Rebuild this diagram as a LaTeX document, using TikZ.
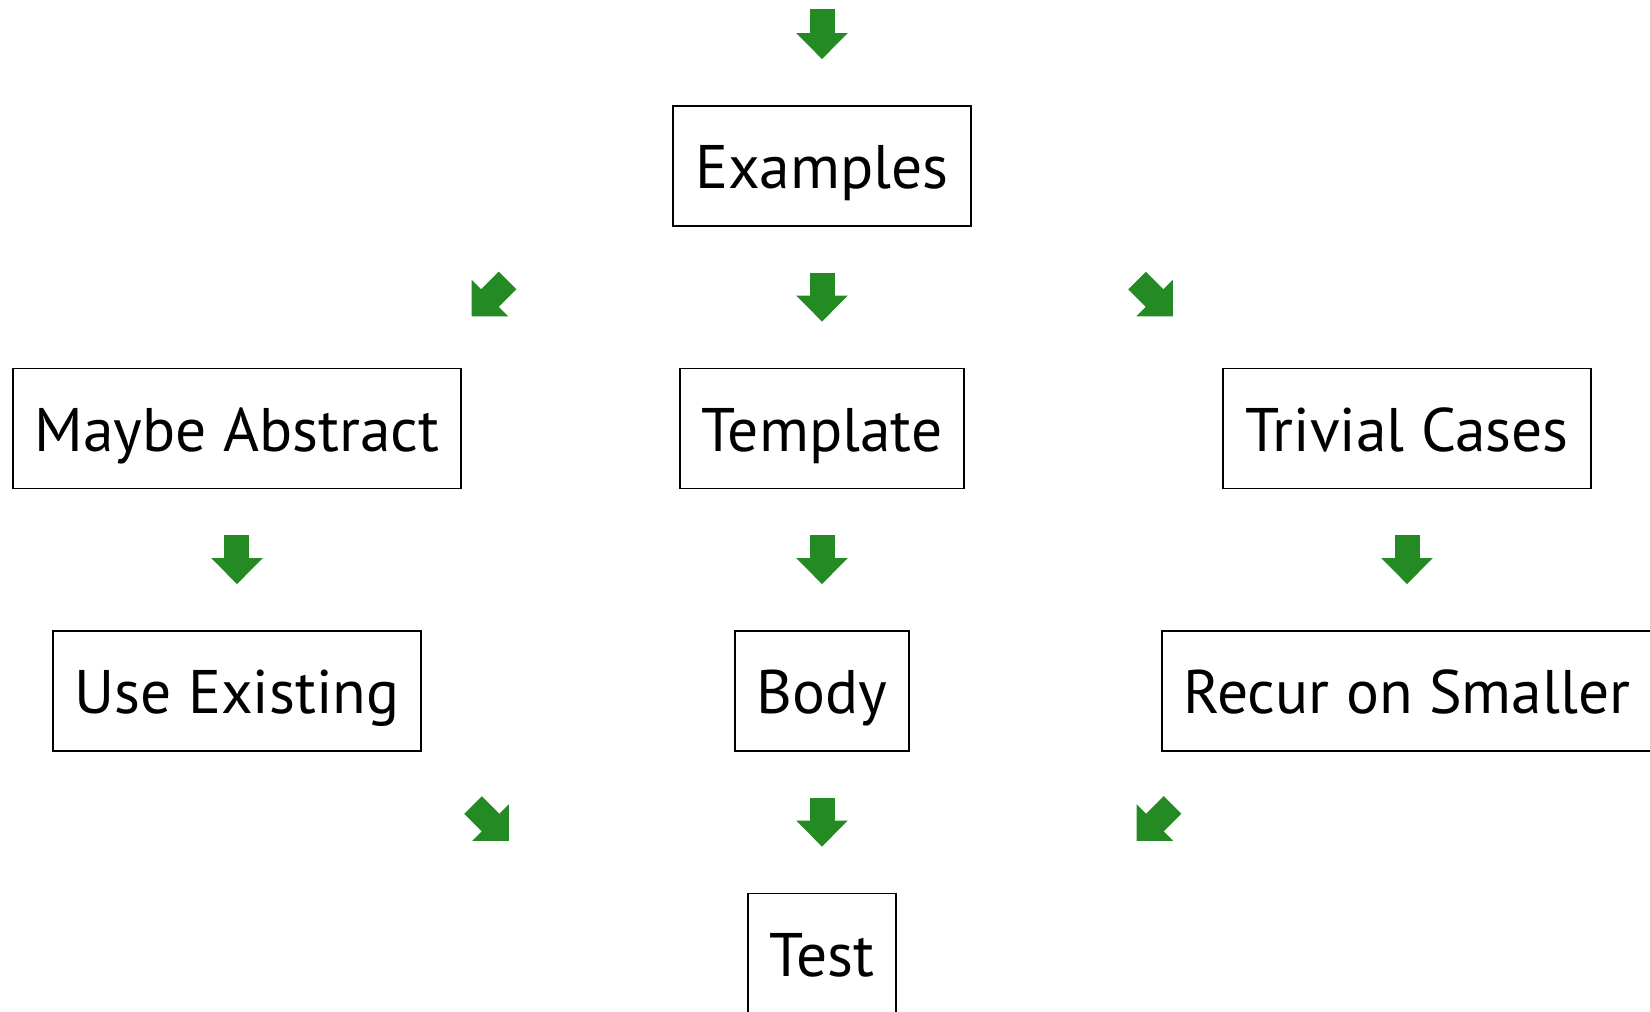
\documentclass[tikz,border=0pt]{standalone}
\usepackage{fontspec}
\setmainfont{PT Sans}
\usetikzlibrary{positioning, calc, arrows.meta}
\definecolor{flowgreen}{RGB}{36,139,36}

\begin{document}
\begin{tikzpicture}[
  node distance=5.25cm and 11.7cm, on grid,
  box/.style={rectangle, draw=black, line width=1pt, fill=white,
              text centered, minimum height=2.4cm, inner xsep=0.44cm,
              text height=26pt, text depth=0pt,
              font=\fontsize{35}{42}\selectfont},
  flow/.style={flowgreen, line width=0.5cm, -{Triangle[length=0.52cm, width=1cm]}},
  gap/.style={shorten <=0.92cm, shorten >=0.92cm}
]
\useasboundingbox (-16.44,3.32) rectangle (16.56,-16.92);
\clip (-16.44,3.32) rectangle (16.56,-16.92);

\node[box]                  (examples) at (0,0) {Examples};
\node[box, below=of examples] (template) {Template};
\node[box, left=of template]  (abstract) {Maybe Abstract};
\node[box, right=of template] (trivial)  {Trivial Cases};
\node[box, below=of abstract] (existing) {Use Existing};
\node[box, below=of template] (body)     {Body};
\node[box, below=of trivial]  (recur)    {Recur on Smaller};
\node[box, below=of body]     (test)     {Test};

\coordinate[above=of examples] (start);
% ends of the slanted arrows
\coordinate (tl-a) at (-6.29,-2.29);   \coordinate (tl-b) at (-7.01,-3.01);
\coordinate (tr-a) at (6.30,-2.29);    \coordinate (tr-b) at (7.02,-3.01);
\coordinate (bl-a) at (-6.98,-12.78);  \coordinate (bl-b) at (-6.26,-13.50);
\coordinate (br-a) at (7.01,-12.78);   \coordinate (br-b) at (6.29,-13.50);

\draw[flow, shorten <=2.115cm, shorten >=0.92cm] (start) -- (examples);
\draw[flow, gap] (examples) -- (template);
\draw[flow, gap] (template) -- (body);
\draw[flow, gap] (body)     -- (test);
\draw[flow, gap] (abstract) -- (existing);
\draw[flow, gap] (trivial)  -- (recur);
\draw[flow] (tl-a) -- (tl-b);
\draw[flow] (tr-a) -- (tr-b);
\draw[flow] (bl-a) -- (bl-b);
\draw[flow] (br-a) -- (br-b);
\end{tikzpicture}
\end{document}
